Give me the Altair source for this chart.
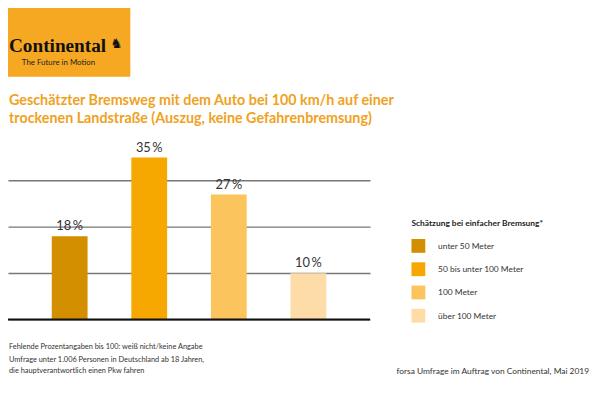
import altair as alt
import pandas as pd

# ---- data ----
categories = ["unter 50 Meter", "50 bis unter 100 Meter", "100 Meter", "über 100 Meter"]
values = [18, 35, 27, 10]
bar_labels = ["18\u2009%", "35\u2009%", "27\u2009%", "10\u2009%"]
bar_colors = ["#D48F00", "#F7A800", "#FBC45C", "#FDDCA8"]
y_ticks = [0, 10, 20, 30]

title_lines = ["Geschätzter Bremsweg mit dem Auto bei 100 km/h auf einer",
               "trockenen Landstraße (Auszug, keine Gefahrenbremsung)"]
legend_title = "Schätzung bei einfacher Bremsung*"
footnotes = ["Fehlende Prozentangaben bis 100: weiß nicht/keine Angabe",
             "Umfrage unter 1.006 Personen in Deutschland ab 18 Jahren,",
             "die hauptverantwortlich einen Pkw fahren"]
source = "forsa Umfrage im Auftrag von Continental, Mai 2019"
logo_name = "Continental"
logo_claim = "The Future in Motion"

df = pd.DataFrame({"cat": categories, "val": values, "lab": bar_labels})

# ---- layout ----
P_TOP = 149
H = 164
W = 367
TOTAL_W = 592
TOTAL_H = 390
FONT = "Lato"


def X(px):
    return px - 8


def Y(py):
    return py - 8 - P_TOP


dummy = alt.Data(values=[{}])

xenc = alt.X("cat:N", sort=categories, axis=None,
             scale=alt.Scale(paddingInner=0.55, paddingOuter=0.55, align=0.5))
yenc = alt.Y("val:Q", scale=alt.Scale(domain=[0, 35], nice=False, zero=True),
             axis=alt.Axis(values=y_ticks, grid=True, labels=False, ticks=False,
                           domain=False, title=None, gridColor="#777777",
                           gridWidth=1.4))

bars = alt.Chart(df).mark_bar().encode(
    x=xenc,
    y=yenc,
    color=alt.Color("cat:N", sort=categories,
                    scale=alt.Scale(domain=categories, range=bar_colors),
                    legend=alt.Legend(
                        title=legend_title, orient="none",
                        legendX=X(417), legendY=Y(219),
                        titleFont=FONT, titleFontSize=8.5, titleFontWeight="bold",
                        titleColor="#222222", titlePadding=12,
                        labelFont=FONT, labelFontSize=8.5, labelColor="#333333",
                        symbolType="square", symbolSize=196, symbolStrokeWidth=0,
                        symbolOpacity=1, rowPadding=9.6, labelOffset=13)),
)

labels = alt.Chart(df).mark_text(baseline="bottom", dy=-3, font=FONT,
                                 fontSize=13, color="#333333").encode(
    x=xenc, y=yenc, text="lab:N")

baseline = alt.Chart(dummy).mark_rule(color="#111111", strokeWidth=2).encode(
    y=alt.datum(0))

logo_box = alt.Chart(dummy).mark_rect(color="#F7A823").encode(
    x=alt.value(X(0)), x2=alt.value(X(132)), y=alt.value(Y(0)), y2=alt.value(Y(75)))


def txt(s, x, y, size, color, align="left", weight="normal", font=FONT):
    return alt.Chart(dummy).mark_text(
        align=align, baseline="middle", fontSize=size, color=color,
        fontWeight=weight, font=font).encode(
        x=alt.value(x), y=alt.value(y), text=alt.value(s))


layers = [logo_box,
          txt(logo_name, X(9), Y(44), 19.5, "#111111", weight="bold",
              font="Liberation Serif"),
          txt("\u265E", X(118), Y(42), 14, "#111111", align="center",
              font="DejaVu Sans"),
          txt(logo_claim, X(22), Y(61), 8, "#222222"),
          txt(title_lines[0], X(9), Y(100), 14.5, "#EFA21E", weight="bold"),
          txt(title_lines[1], X(9), Y(118), 14.5, "#EFA21E", weight="bold"),
          bars, labels, baseline,
          txt(footnotes[0], X(9), Y(349), 7.5, "#333333"),
          txt(footnotes[1], X(9), Y(362), 7.5, "#333333"),
          txt(footnotes[2], X(9), Y(373), 7.5, "#333333"),
          txt(source, X(597), Y(373), 8.5, "#333333", align="right")]

chart = alt.layer(*layers).properties(
    width=W, height=H,
    autosize=alt.AutoSizeParams(type="none"),
    padding={"left": 0, "top": P_TOP, "right": TOTAL_W - W, "bottom": TOTAL_H - P_TOP - H},
).configure_view(stroke=None)

chart.save("out.html", embed_options={"renderer": "svg", "actions": False})
